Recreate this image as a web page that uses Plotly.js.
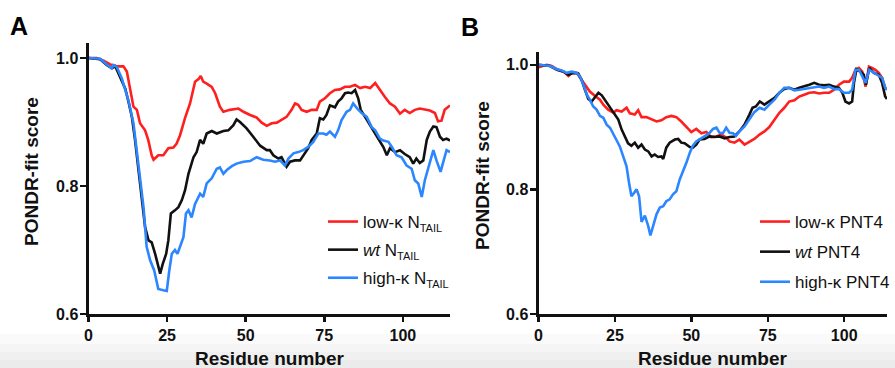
<!DOCTYPE html>
<html>
<head>
<meta charset="utf-8">
<script src="https://cdn.plot.ly/plotly-3.0.1.min.js"></script>
<style>
  html, body { margin: 0; padding: 0; background: #ffffff; }
  #chart { width: 895px; height: 368px; }
</style>
</head>
<body>
<div id="chart"></div>
<script>
// ---- Panel A (N_TAIL): [residue, PONDR-fit score] ----
const lowA = [[0,1.0],[2.6,1.0],[4.8,0.996],[6.9,0.99],[9,0.987],[11.1,0.987],[12.2,0.979],[13.2,0.955],[14.3,0.924],[15.4,0.919],[16.4,0.898],[18,0.887],[19,0.872],[20.1,0.848],[20.7,0.841],[22.2,0.848],[23.8,0.848],[25.4,0.859],[27,0.86],[28,0.866],[29.1,0.879],[30.7,0.906],[32.3,0.929],[33.9,0.963],[35,0.967],[35.7,0.972],[36.5,0.963],[37.6,0.96],[39.2,0.955],[40.3,0.945],[41.8,0.924],[42.9,0.916],[45,0.919],[47.7,0.921],[49.3,0.916],[51.4,0.911],[53.5,0.907],[55.1,0.899],[56.7,0.894],[58.3,0.898],[59.9,0.899],[61,0.902],[63,0.908],[64.6,0.919],[65.7,0.929],[66.7,0.927],[67.8,0.919],[69.4,0.916],[71,0.919],[72.6,0.919],[73.6,0.932],[75.2,0.937],[76.8,0.945],[78.4,0.95],[80,0.951],[81.6,0.955],[83.2,0.955],[84.8,0.958],[86.4,0.953],[88,0.955],[89.6,0.953],[91.2,0.961],[92.7,0.95],[94.3,0.939],[95.9,0.929],[97.5,0.924],[99.1,0.913],[100.6,0.919],[102.2,0.914],[103.8,0.919],[105.4,0.921],[107,0.919],[108.6,0.918],[110.2,0.914],[111.2,0.901],[112.3,0.902],[113.3,0.919],[115,0.926]];
const wtA = [[0,1.0],[3.7,0.998],[5.8,0.989],[7.4,0.984],[8.5,0.987],[9.5,0.976],[10.6,0.966],[11.7,0.952],[12.7,0.932],[13.8,0.908],[14.8,0.872],[15.9,0.825],[16.9,0.778],[18,0.736],[19.1,0.715],[20.1,0.712],[21.2,0.694],[22.2,0.673],[22.8,0.663],[23.6,0.678],[24.7,0.694],[25.4,0.715],[26.2,0.757],[27.5,0.762],[28.6,0.767],[29.7,0.778],[30.7,0.793],[31.8,0.819],[33.4,0.845],[34.4,0.853],[35.5,0.872],[36.5,0.866],[37.6,0.882],[39.2,0.886],[40.8,0.882],[42.9,0.886],[44.5,0.887],[46.1,0.895],[47.1,0.904],[48.2,0.9],[50.3,0.89],[52.4,0.877],[54.6,0.863],[56.7,0.856],[57.7,0.856],[58.8,0.848],[60.4,0.843],[61.4,0.845],[62.5,0.835],[63,0.83],[64.1,0.838],[65.7,0.84],[67.3,0.84],[68.3,0.848],[69.9,0.859],[71,0.872],[72.6,0.882],[73.6,0.906],[74.7,0.904],[75.7,0.911],[76.8,0.926],[78.4,0.923],[79.4,0.932],[80.5,0.937],[81.6,0.945],[82.6,0.946],[83.7,0.945],[84.8,0.95],[85.8,0.937],[86.6,0.919],[88,0.908],[89.6,0.895],[91.2,0.882],[92.7,0.869],[93.8,0.861],[94.9,0.848],[95.9,0.859],[97.5,0.853],[99.1,0.856],[100.6,0.85],[102.2,0.845],[103.3,0.835],[104.3,0.843],[105.4,0.836],[106.5,0.84],[107.6,0.872],[108.6,0.885],[109.7,0.893],[110.7,0.892],[111.8,0.877],[112.8,0.872],[113.9,0.874],[115,0.871]];
const highA = [[0,1.0],[3.7,0.999],[5.8,0.99],[7.4,0.984],[7.9,0.989],[9,0.986],[10.6,0.968],[12.7,0.934],[14.3,0.898],[15.9,0.835],[17.5,0.767],[18.5,0.705],[19.6,0.684],[20.9,0.668],[22.2,0.639],[23.8,0.637],[24.9,0.636],[25.7,0.668],[26.5,0.694],[27.5,0.7],[28.3,0.694],[29.1,0.705],[30.2,0.72],[31,0.757],[31.8,0.762],[32.8,0.751],[33.9,0.772],[35.5,0.788],[36.5,0.783],[37.6,0.804],[39.2,0.812],[40.8,0.827],[41.8,0.829],[42.9,0.819],[44,0.825],[45.6,0.831],[47.1,0.835],[49.3,0.838],[51.4,0.839],[53.5,0.845],[55.6,0.841],[57.7,0.84],[59.3,0.838],[60.9,0.84],[62.5,0.832],[63.6,0.843],[65.2,0.851],[66.7,0.853],[68.3,0.856],[69.9,0.861],[71.5,0.869],[73.1,0.882],[74.7,0.882],[75.7,0.88],[76.8,0.885],[78.4,0.877],[79.4,0.887],[80.5,0.903],[82.1,0.916],[83.2,0.919],[84.2,0.929],[85.5,0.921],[86.9,0.914],[88.5,0.908],[90.1,0.892],[91.2,0.887],[92.7,0.874],[93.8,0.871],[95.4,0.869],[96.5,0.861],[98,0.848],[99.6,0.845],[101.2,0.832],[102.8,0.827],[103.8,0.809],[104.9,0.804],[106,0.783],[107,0.809],[108.6,0.835],[109.7,0.856],[110.7,0.84],[112,0.822],[113,0.84],[113.9,0.856],[115,0.853]];

// ---- Panel B (PNT4): [residue, PONDR-fit score] ----
const lowB = [[0,0.996],[2.7,1.0],[4.3,0.998],[6,0.993],[8.2,0.989],[9.8,0.982],[10.9,0.987],[12.5,0.987],[13.6,0.979],[15.2,0.968],[16.8,0.957],[18.5,0.95],[20.1,0.944],[21.2,0.936],[22.8,0.928],[24.5,0.923],[25.5,0.927],[27.2,0.925],[28.8,0.931],[29.9,0.922],[31.5,0.92],[32.6,0.927],[33.7,0.916],[35.3,0.916],[36.9,0.912],[38.6,0.909],[40.2,0.911],[41.8,0.916],[43.5,0.918],[45.1,0.916],[46.7,0.909],[48.4,0.9],[50,0.892],[51.6,0.897],[53.3,0.89],[54.9,0.892],[56.5,0.884],[58.2,0.885],[59.8,0.888],[61.4,0.883],[62.5,0.877],[64.1,0.875],[65.7,0.88],[67.4,0.872],[69,0.877],[70.6,0.881],[72.3,0.888],[73.9,0.893],[75.5,0.9],[77.2,0.912],[78.8,0.923],[80.4,0.931],[82,0.941],[83.7,0.943],[85.3,0.949],[86.9,0.952],[88.6,0.955],[90.2,0.956],[91.8,0.954],[93.4,0.955],[95.1,0.955],[96.7,0.96],[98.3,0.968],[99.9,0.973],[101.6,0.973],[102.6,0.979],[103.7,0.992],[104.8,0.995],[105.9,0.989],[107,0.965],[108.1,0.997],[109.1,0.995],[110.2,0.992],[111.3,0.987],[112.4,0.979],[113.4,0.963],[114,0.96]];
const wtB = [[0,1.0],[3.8,0.998],[6,0.992],[8.2,0.989],[9.8,0.984],[11.4,0.987],[13,0.986],[14.1,0.976],[15.2,0.96],[16.3,0.945],[17.4,0.941],[18.5,0.949],[19.6,0.955],[20.7,0.951],[21.7,0.944],[22.8,0.936],[23.9,0.928],[25.3,0.918],[26.1,0.912],[27.2,0.896],[28.3,0.885],[29.3,0.874],[30.4,0.87],[31.5,0.875],[32.6,0.867],[33.7,0.872],[34.8,0.864],[35.9,0.861],[37,0.853],[38,0.856],[39.1,0.852],[40.2,0.853],[40.8,0.849],[41.8,0.867],[42.9,0.875],[44.6,0.88],[45.7,0.881],[46.7,0.875],[47.8,0.874],[49.5,0.868],[50.5,0.867],[51.6,0.872],[52.7,0.88],[54.3,0.881],[56,0.885],[57.6,0.884],[59.2,0.885],[60.9,0.882],[62.5,0.884],[64.1,0.885],[65.7,0.893],[67.4,0.904],[69,0.92],[70,0.931],[71.1,0.933],[72.4,0.941],[73.9,0.936],[75.5,0.941],[77.2,0.947],[78.8,0.955],[80.4,0.961],[82,0.963],[83.7,0.96],[85.3,0.963],[86.9,0.965],[88.6,0.968],[90.2,0.971],[91.8,0.968],[93.4,0.967],[95.1,0.968],[96.7,0.965],[98.3,0.963],[99.4,0.955],[100.4,0.941],[101.6,0.938],[102.6,0.941],[103.2,0.971],[104,0.993],[105.3,0.989],[106.4,0.984],[107.1,0.968],[108.2,0.995],[109.7,0.987],[111.3,0.984],[112.4,0.971],[113.4,0.949],[114,0.945]];
const highB = [[0,1.0],[3.8,0.998],[6,0.993],[7.6,0.991],[9.2,0.987],[10.9,0.989],[12.5,0.987],[13.6,0.981],[14.7,0.968],[15.8,0.952],[16.8,0.944],[17.9,0.933],[19,0.928],[20.1,0.918],[21.2,0.915],[22.3,0.904],[23.4,0.899],[24.5,0.888],[25.5,0.88],[26.6,0.869],[27.7,0.853],[28.8,0.837],[29.6,0.811],[30.4,0.789],[31.2,0.794],[32.1,0.8],[32.9,0.789],[33.7,0.748],[34.8,0.758],[35.9,0.741],[36.6,0.726],[37.5,0.741],[38.6,0.76],[39.7,0.771],[40.8,0.773],[41.8,0.781],[42.9,0.784],[44,0.792],[45.1,0.797],[46.2,0.816],[47.3,0.829],[48.4,0.843],[49.5,0.859],[50.5,0.87],[51.6,0.877],[52.7,0.88],[53.8,0.883],[54.9,0.887],[56,0.891],[57.1,0.897],[58.2,0.899],[59.2,0.891],[60.3,0.89],[61.4,0.899],[62.5,0.891],[63.6,0.89],[64.6,0.886],[65.7,0.893],[67.4,0.901],[69,0.912],[70.6,0.924],[72.3,0.931],[73.9,0.928],[75.5,0.936],[77.2,0.944],[78.8,0.955],[80.4,0.963],[82,0.963],[83.7,0.959],[85.3,0.96],[86.9,0.961],[88.6,0.963],[90.2,0.964],[91.8,0.965],[93.4,0.963],[95.1,0.965],[96.7,0.961],[98.3,0.961],[99.9,0.955],[101.6,0.955],[102.6,0.96],[103.7,0.992],[104.8,0.992],[105.9,0.981],[107,0.971],[108.2,0.992],[109.7,0.987],[111.3,0.982],[112.4,0.979],[113.4,0.963],[114,0.96]];

// ---- labels ----
const xTicks = [0, 25, 50, 75, 100];
const yTicks = [0.6, 0.8, 1.0];
const yTickText = ["0.6", "0.8", "1.0"];
const sub = '<sub><span style="font-size:11px">TAIL</span></sub>';
const namesA = ["low-κ N" + sub, "<i>wt</i> N" + sub, "high-κ N" + sub];
const namesB = ["low-κ PNT4", "<i>wt</i> PNT4", "high-κ PNT4"];
const colors = ["#ff1f1f", "#111111", "#2b86ff"];

const FONT = "Liberation Sans, Arial, Helvetica, sans-serif";
const W = 895, H = 368;
const px = v => v / W;
const py = v => 1 - v / H;

function mk(series, name, color, xa, ya, leg, grp) {
  return {
    type: "scatter", mode: "lines",
    x: series.map(p => p[0]), y: series.map(p => p[1]),
    name: name, xaxis: xa, yaxis: ya, legend: leg, legendgroup: grp,
    line: { color: color, width: 2.6 },
    hoverinfo: "skip"
  };
}

const traces = [
  mk(lowA, namesA[0], colors[0], "x", "y", "legend", "a1"),
  mk(wtA, namesA[1], colors[1], "x", "y", "legend", "a2"),
  mk(highA, namesA[2], colors[2], "x", "y", "legend", "a3"),
  mk(lowB, namesB[0], colors[0], "x2", "y2", "legend2", "b1"),
  mk(wtB, namesB[1], colors[1], "x2", "y2", "legend2", "b2"),
  mk(highB, namesB[2], colors[2], "x2", "y2", "legend2", "b3")
];

const tickFont = { family: FONT, size: 16, color: "#111", weight: "bold" };
function xax(domain, range) {
  return {
    domain: domain, range: range, tickvals: xTicks, ticks: "outside", ticklen: 5,
    tickwidth: 2.5, tickcolor: "#111", showline: true, linewidth: 3, linecolor: "#111",
    showgrid: false, zeroline: false, tickfont: tickFont, fixedrange: true, automargin: false
  };
}
function yax(domain, range, anchor) {
  return {
    domain: domain, range: range, tickvals: yTicks, ticktext: yTickText, ticks: "outside",
    ticklen: 6, tickwidth: 2.5, tickcolor: "#111", showline: true, linewidth: 3,
    linecolor: "#111", showgrid: false, zeroline: false, tickfont: tickFont,
    ticklabelstandoff: -2, anchor: anchor, fixedrange: true, automargin: false
  };
}

const legFont = { family: FONT, size: 17, color: "#111" };
const layout = {
  width: W, height: H,
  margin: { l: 0, r: 0, t: 0, b: 0, autoexpand: false },
  paper_bgcolor: "#ffffff", plot_bgcolor: "rgba(0,0,0,0)",
  showlegend: true,
  xaxis: Object.assign(xax([px(88.5), px(450)], [0, 115]), { anchor: "y" }),
  yaxis: yax([py(314), py(43.3)], [0.6, 1.023], "x"),
  xaxis2: Object.assign(xax([px(538.5), px(887)], [0, 114]), { anchor: "y2" }),
  yaxis2: yax([py(314), py(51.7)], [0.6, 1.021], "x2"),
  legend: {
    x: px(323), xanchor: "left", y: py(204), yanchor: "top",
    bgcolor: "rgba(0,0,0,0)", font: legFont, traceorder: "grouped", tracegroupgap: 3,
    itemwidth: 30
  },
  legend2: {
    x: 1, xanchor: "right", y: py(204), yanchor: "top",
    bgcolor: "rgba(0,0,0,0)", font: legFont, traceorder: "grouped", tracegroupgap: 5,
    itemwidth: 30
  },
  annotations: [
    { text: "A", x: px(18.5), y: py(26), xref: "paper", yref: "paper", showarrow: false,
      xanchor: "center", yanchor: "middle", font: { family: FONT, size: 25, color: "#000", weight: "bold" } },
    { text: "B", x: px(470), y: py(26.5), xref: "paper", yref: "paper", showarrow: false,
      xanchor: "center", yanchor: "middle", font: { family: FONT, size: 25, color: "#000", weight: "bold" } },
    { text: "Residue number", x: px(269), y: py(358), xref: "paper", yref: "paper", showarrow: false,
      xanchor: "center", yanchor: "middle", font: { family: FONT, size: 19, color: "#111", weight: "bold" } },
    { text: "Residue number", x: px(712.5), y: py(358), xref: "paper", yref: "paper", showarrow: false,
      xanchor: "center", yanchor: "middle", font: { family: FONT, size: 19, color: "#111", weight: "bold" } },
    { text: "PONDR-fit score", x: px(31), y: py(172), xref: "paper", yref: "paper", showarrow: false,
      textangle: -90, xanchor: "center", yanchor: "middle", font: { family: FONT, size: 19, color: "#111", weight: "bold" } },
    { text: "PONDR-fit score", x: px(482), y: py(176), xref: "paper", yref: "paper", showarrow: false,
      textangle: -90, xanchor: "center", yanchor: "middle", font: { family: FONT, size: 19, color: "#111", weight: "bold" } }
  ],
  shapes: [
    { type: "rect", xref: "paper", yref: "paper", x0: 0, x1: 1, y0: 0, y1: py(334), layer: "below", line: { width: 0 }, fillcolor: "rgba(0,0,0,0.018)" },
    { type: "rect", xref: "paper", yref: "paper", x0: 0, x1: 1, y0: 0, y1: py(344), layer: "below", line: { width: 0 }, fillcolor: "rgba(0,0,0,0.018)" },
    { type: "rect", xref: "paper", yref: "paper", x0: 0, x1: 1, y0: 0, y1: py(352), layer: "below", line: { width: 0 }, fillcolor: "rgba(0,0,0,0.018)" },
    { type: "rect", xref: "paper", yref: "paper", x0: 0, x1: 1, y0: 0, y1: py(360), layer: "below", line: { width: 0 }, fillcolor: "rgba(0,0,0,0.018)" }
  ]
};

Plotly.newPlot("chart", traces, layout, { staticPlot: true, displayModeBar: false });
</script>
</body>
</html>
